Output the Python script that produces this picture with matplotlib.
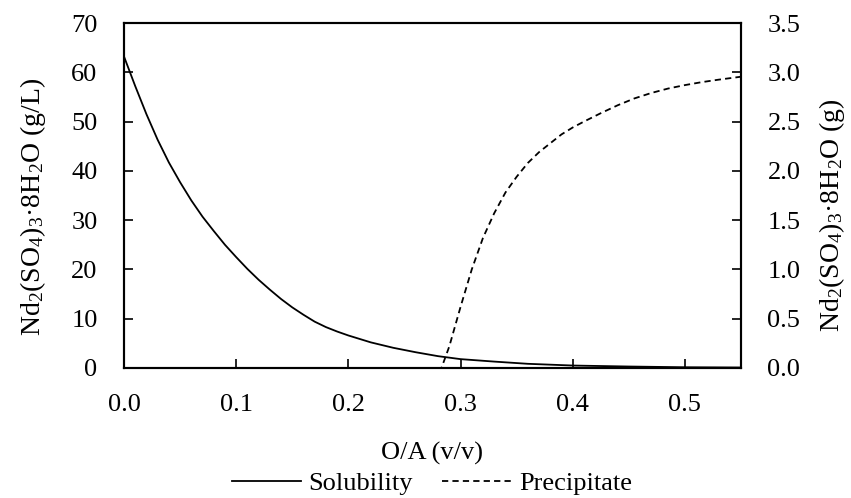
import matplotlib
matplotlib.use('Agg')
import matplotlib.pyplot as plt

# solubility curve, left axis (g/L)
sol_x = [0.0, 0.01, 0.02, 0.03, 0.04, 0.05, 0.06, 0.07, 0.08, 0.09, 0.10,
         0.11, 0.12, 0.13, 0.14, 0.15, 0.16, 0.17, 0.18, 0.19, 0.20, 0.22,
         0.24, 0.26, 0.28, 0.30, 0.33, 0.36, 0.40, 0.45, 0.50, 0.55]
sol_y = [63.2, 57.2, 51.5, 46.3, 41.7, 37.7, 34.0, 30.7, 27.8, 25.0, 22.5,
         20.1, 17.9, 15.9, 14.0, 12.3, 10.8, 9.4, 8.3, 7.4, 6.6, 5.2,
         4.1, 3.2, 2.4, 1.8, 1.3, 0.85, 0.5, 0.3, 0.15, 0.1]

# precipitate curve, right axis (g)
pre_x = [0.0, 0.283, 0.29, 0.30, 0.31, 0.32, 0.33, 0.34, 0.35, 0.36, 0.37,
         0.38, 0.39, 0.40, 0.41, 0.425, 0.44, 0.455, 0.47, 0.485, 0.50,
         0.515, 0.53, 0.55]
pre_y = [0.0, 0.0, 0.22, 0.62, 1.00, 1.32, 1.57, 1.78, 1.94, 2.08, 2.19,
         2.28, 2.37, 2.44, 2.50, 2.585, 2.665, 2.735, 2.79, 2.835, 2.87,
         2.90, 2.925, 2.955]

x_ticks = [0.0, 0.1, 0.2, 0.3, 0.4, 0.5]
left_ticks = [0, 10, 20, 30, 40, 50, 60, 70]
right_ticks = [0.0, 0.5, 1.0, 1.5, 2.0, 2.5, 3.0, 3.5]

plt.rcParams['font.family'] = ['Liberation Serif', 'DejaVu Serif']
plt.rcParams['mathtext.fontset'] = 'custom'
plt.rcParams['mathtext.rm'] = 'Liberation Serif'
plt.rcParams['mathtext.it'] = 'Liberation Serif:italic'
plt.rcParams['lines.scale_dashes'] = False
fs = 19

W, H = 851, 498
fig = plt.figure(figsize=(W / 100, H / 100), dpi=100)
ax = fig.add_axes([124 / W, 1 - 368 / H, 617 / W, 345 / H])
ax2 = ax.twinx()

l1, = ax.plot(sol_x, sol_y, color='black', lw=1.3, label='Solubility')
l2, = ax2.plot(pre_x, pre_y, color='black', lw=1.3, linestyle=(0, (4.5, 3)),
               label='Precipitate')

ax.set_xlim(0, 0.55)
ax.set_ylim(0, 70)
ax2.set_ylim(0, 3.5)
ax.set_xticks(x_ticks)
ax.set_xticklabels(['%.1f' % v for v in x_ticks])
ax.set_yticks(left_ticks)
ax.set_yticklabels(['%d' % v for v in left_ticks])
ax2.set_yticks(right_ticks)
ax2.set_yticklabels(['%.1f' % v for v in right_ticks])

for a in (ax, ax2):
    for s in a.spines.values():
        s.set_linewidth(1.5)
ax.tick_params(axis='both', direction='in', length=6.5, width=1.2,
               labelsize=fs, pad=19)
ax2.tick_params(axis='y', direction='in', length=6.5, width=1.2,
                labelsize=fs, pad=19)

ax.set_xlabel('O/A (v/v)', fontsize=fs, va='center')
ax.xaxis.set_label_coords(0.5, (368 - 453) / 345)
ax.set_ylabel(r'Nd$_\mathrm{2}$(SO$_\mathrm{4}$)$_\mathrm{3}$·8H$_\mathrm{2}$O (g/L)',
              fontsize=20, va='center')
ax.yaxis.set_label_coords((33 - 124) / 617, (368 - 207) / 345)
ax2.set_ylabel(r'Nd$_\mathrm{2}$(SO$_\mathrm{4}$)$_\mathrm{3}$·8H$_\mathrm{2}$O (g)',
               fontsize=20, va='center')
ax2.yaxis.set_label_coords((832 - 124) / 617, (368 - 215) / 345)

fig.legend(handles=[l1, l2], loc='center', bbox_to_anchor=(432 / W, 1 - 483 / H),
           ncol=2, frameon=False, fontsize=fs, handlelength=2.6,
           handletextpad=0.3, columnspacing=1.1)

fig.savefig('out.png', dpi=100)
